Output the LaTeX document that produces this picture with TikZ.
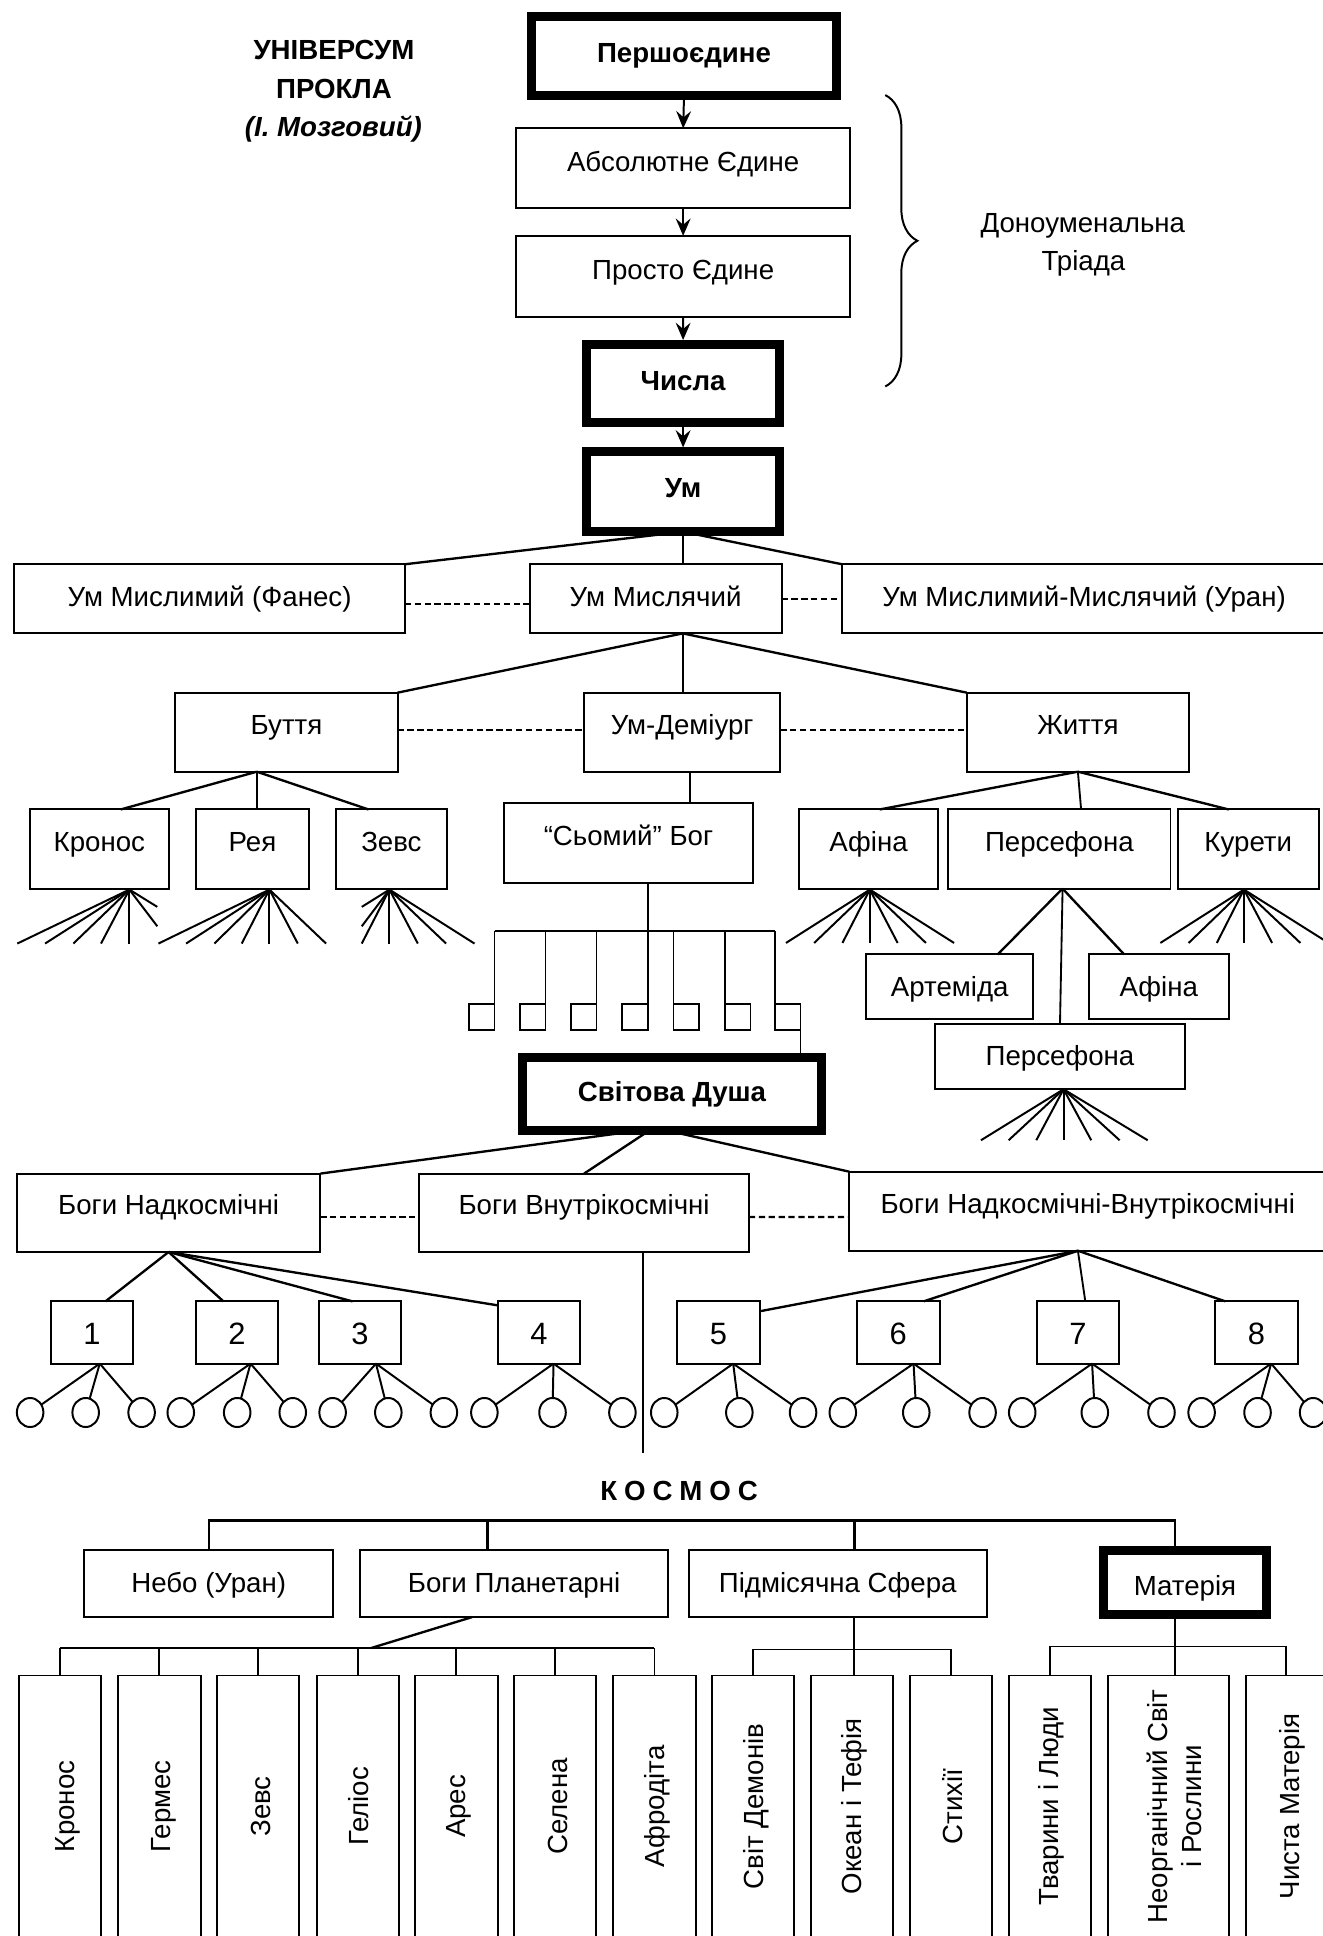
\documentclass[tikz,border=0pt]{standalone}
\usepackage{fontspec}
\setmainfont{Liberation Sans}
\usetikzlibrary{arrows.meta,shapes.geometric,decorations.pathreplacing}
\newcommand\lbfont{\fontsize{11.2}{13.5}\selectfont}
\newcommand\numfont{\fontsize{12.5}{14}\selectfont}
% box: [style]{name}{x1}{y1}{x2}{y2}{text y (cap centre)}{text}
\newcommand\mybox[8][thinbox]{%
  \node[#1, minimum width={(#5-#3)*0.5pt}, minimum height={(#6-#4)*0.5pt}] (#2) at ({(#3+#5)/2},{(#4+#6)/2}) {};
  \node[lbl] at ({(#3+#5)/2},{#7+8}) {#8};}
% vertical box: {name}{x1}{x2}{text x}{text}
\newcommand\vertbox[5]{%
  \node[thinbox, minimum width={(#3-#2)*0.5pt}, minimum height=113pt] (#1) at ({(#2+#3)/2},1470) {};
  \node[vlbl] at (#4,1463) {#5};}
\begin{document}
\begin{tikzpicture}[x=0.5pt,y=-0.5pt,
  thinbox/.style={draw, line width=0.8pt, inner sep=0pt, outer sep=0pt},
  thickbox/.style={draw, line width=3.6pt, inner sep=0pt, outer sep=0pt},
  lbl/.style={anchor=base, inner sep=0pt, font=\lbfont},
  vlbl/.style={rotate=90, inner sep=0pt, font=\lbfont, align=center},
  ttl/.style={anchor=base, inner sep=0pt, font=\lbfont\bfseries},
  conn/.style={line width=0.95pt},
  thinline/.style={line width=0.75pt},
  dotline/.style={line width=0.9pt, dash pattern=on 2.5pt off 1.5pt},
  arr/.style={line width=0.8pt, -{Stealth[length=7pt,width=6pt,inset=2.5pt]}},
  fan/.style={line width=0.8pt},
  circ/.style={draw, ellipse, line width=0.8pt, minimum width=10.75pt, minimum height=11.75pt, inner sep=0pt, outer sep=0pt},
]
\useasboundingbox (0,0) rectangle (1071,1568);

% ---------- title
\node[ttl] (t1) at (270.5,48.5) {УНІВЕРСУМ};
\node[ttl] (t2) at (270.5,79.5) {ПРОКЛА};
\node[ttl, font=\lbfont\bfseries\itshape] (t3) at (270,110.6) {(І. Мозговий)};

% ---------- top chain
\mybox[thickbox]{perv}{430.5}{13.5}{677.5}{77.5}{43}{\bfseries Першоєдине}
\mybox{abs}{418}{104}{688.6}{168.8}{131}{Абсолютне Єдине}
\mybox{prosto}{418}{191}{688.6}{256.5}{218}{Просто Єдине}
\mybox[thickbox]{chysla}{475}{279}{631.5}{342}{308}{\bfseries Числа}
\mybox[thickbox]{um}{475}{366}{631.5}{430.7}{395}{\bfseries Ум}
\draw[arr] (perv.south) -- (abs.north);
\draw[arr] (abs.south) -- (prosto.north);
\draw[arr] (prosto.south) -- ([yshift=1.8pt]chysla.north);
\draw[arr] (chysla.south) -- ([yshift=1.8pt]um.north);

% brace
\coordinate (br1) at (717,77);
\coordinate (br2) at (717,313);
\draw[line width=0.8pt, decorate, decoration={brace, amplitude=13pt}] (br1) -- (br2);
\node[lbl] (don1) at (877,188) {Доноуменальна};
\node[lbl] (don2) at (877.5,219) {Тріада};

% ---------- Um level
\mybox{fanes}{11.6}{457}{327.9}{513}{483}{Ум Мислимий (Фанес)}
\mybox{mysl}{429}{457}{633}{513}{483}{Ум Мислячий}
\mybox{uran}{682}{457}{1074}{513}{483}{Ум Мислимий-Мислячий (Уран)}
\draw[conn] (um.south) -- (fanes.north east);
\draw[conn] (um.south) -- (um.south |- mysl.north);
\draw[conn] (um.south) -- (uran.north west);
\draw[dotline] ([yshift=-2pt]fanes.east) -- ([yshift=-2pt]mysl.west);
\draw[dotline] (mysl.east) -- (uran.west);

% ---------- Mysl children
\coordinate (ma) at (553,513);
\mybox{buttya}{142}{561}{322}{625}{587}{Буття}
\mybox{demi}{473}{561}{632}{625}{587}{Ум-Деміург}
\mybox{zhyt}{783}{561}{963}{625}{587}{Життя}
\draw[conn] (ma) -- (buttya.north east);
\draw[conn] (ma) -- (ma |- demi.north);
\draw[conn] (ma) -- (zhyt.north west);
\draw[dotline] ([yshift=1pt]buttya.east) -- ([yshift=1pt]demi.west);
\draw[dotline] ([yshift=1pt]demi.east) -- ([yshift=1pt]zhyt.west);

% Buttya children
\mybox{kronos}{24}{655.6}{137}{719.7}{682}{Кронос}
\mybox{reya}{159}{655.6}{250}{719.7}{682}{Рея}
\mybox{zevs}{272}{655.6}{362}{719.7}{682}{Зевс}
\draw[conn] ([xshift=-12pt]buttya.south) -- ([xshift=8.6pt]kronos.north);
\draw[conn] ([xshift=-12pt]buttya.south) -- ([xshift=1.75pt]reya.north);
\draw[conn] ([xshift=-12pt]buttya.south) -- ([xshift=-9.25pt]zevs.north);

% Demiurg child
\mybox{somyi}{408}{650}{610}{715}{677}{“Сьомий” Бог}
\draw[conn] ([xshift=3.1pt]demi.south) -- ([xshift=3.1pt]demi.south |- somyi.north);

% Zhyttya children
\mybox{afina}{647}{655.6}{760}{719.7}{682}{Афіна}
\mybox{persef}{768}{655.6}{948}{719.7}{682}{Персефона}
\mybox{kureti}{954}{655.6}{1068}{719.7}{682}{Курети}
\draw[conn] (zhyt.south) -- ([xshift=4.45pt]afina.north);
\draw[thinline] (zhyt.south) -- ([xshift=8.8pt]persef.north);
\draw[conn] (zhyt.south) -- ([xshift=-7.9pt]kureti.north);

% Persefona children
\mybox{artem}{701.5}{773}{837}{825}{799}{Артеміда}
\mybox{afina2}{882}{773}{995}{825}{799}{Афіна}
\mybox{pers2}{757}{829.5}{960}{882}{855}{Персефона}
\coordinate (pa) at (860.6,719.7);
\draw[conn] (pa) -- ([xshift=19.4pt]artem.north);
\draw[conn] (pa) -- ([xshift=-14pt]afina2.north);
\draw[thinline] (pa) -- (pers2.north);

% ---------- fans
\coordinate (kf) at (104.8,720.5);
\foreach \x in {14,36.5,59.4,81.8,104.8} \draw[fan] (kf) -- (\x,764.2);
\draw[fan] (kf) -- (127.4,734.5);
\draw[fan] (kf) -- (127.4,750.2);
\coordinate (rf) at (218.2,720.5);
\foreach \x in {128.3,150.7,173.6,195.8,218.2,241.2,264.1} \draw[fan] (rf) -- (\x,764.2);
\coordinate (zf) at (315.4,720.5);
\foreach \x in {293,315.4,338.4,361.3,384.3} \draw[fan] (zf) -- (\x,764.2);
\draw[fan] (zf) -- (293,734.5);
\draw[fan] (zf) -- (293,750.2);
\coordinate (af) at (704.5,720.5);
\foreach \x in {636.6,659.4,682.3,704.5,727,749.9,772.7} \draw[fan] (af) -- (\x,763.7);
\coordinate (kuf) at (1007.5,720.5);
\foreach \x in {939.8,962.7,985.5,1007.5,1030.3,1053.2,1076} \draw[fan] (kuf) -- (\x,763.7);
\coordinate (pf) at (861.4,882.2);
\foreach \x in {794.5,816.9,839.3,861.4,883.8,906.8,929.5} \draw[fan] (pf) -- (\x,923.5);

% ---------- seven small boxes
\foreach \i/\x in {1/380,2/421.3,3/462.6,4/504.1,5/545.5,6/587.3,7/627.8}
  \node[thinbox, line width=0.75pt, minimum width=10.25pt, minimum height=10.25pt] (sb\i) at ({\x+10.25},823.65) {};
\coordinate (fk) at (524.4,754);
\draw[thinline] (somyi.south -| sb4.north east) -- (sb4.north east);
\draw[thinline] (sb1.north east |- fk) -- (sb7.north west |- fk);
\foreach \i in {1,2,3} \draw[thinline] (sb\i.north east) -- (sb\i.north east |- fk);
\foreach \i in {5,6,7} \draw[thinline] (sb\i.north west) -- (sb\i.north west |- fk);

% ---------- World Soul
\mybox[thickbox]{dusha}{423}{856.5}{665.5}{915.5}{884}{\bfseries Світова Душа}
\draw[thinline] (sb7.south east) -- (sb7.south east |- dusha.north);

\mybox{nadk}{13.6}{950.5}{259.5}{1014}{976}{Боги Надкосмічні}
\mybox{vnutr}{339.5}{950.5}{606.6}{1014}{976}{Боги Внутрікосмічні}
\mybox{nv}{688}{949}{1074}{1013}{975}{Боги Надкосмічні-Внутрікосмічні}
\draw[conn] ([xshift=-12.6pt]dusha.south) -- (nadk.north east);
\draw[conn] ([xshift=-9.1pt]dusha.south) -- (vnutr.north);
\draw[conn] ([xshift=-2.3pt]dusha.south) -- (nv.north west);
\draw[dotline] ([yshift=-1.7pt]nadk.east) -- ([yshift=-1.7pt]vnutr.west);
\draw[dotline] ([yshift=-1.7pt]vnutr.east) -- ([yshift=-2.3pt]nv.west);
\draw[thinline] ([xshift=23.7pt]vnutr.south) -- ++(0,163);

% numbered boxes
\foreach \i/\a/\b in {1/41/108,2/158.5/225.5,3/258/325,4/403/470,5/548.5/615.4,6/694/761,7/839.5/906.5,8/984.3/1051}
  {\mybox{n\i}{\a}{1054}{\b}{1104.4}{1081}{\numfont\i}}
\draw[conn] (nadk.south) -- ([xshift=5.45pt]n1.north);
\draw[conn] (nadk.south) -- ([xshift=-5.5pt]n2.north);
\draw[conn] (nadk.south) -- ([xshift=-3pt]n3.north);
\draw[conn] (nadk.south) -- ([yshift=-1.6pt]n4.north west);
\draw[conn] ([xshift=-4pt]nv.south) -- ([yshift=-4pt]n5.north east);
\draw[conn] ([xshift=-4pt]nv.south) -- ([xshift=10.25pt]n6.north);
\draw[thinline] ([xshift=-4pt]nv.south) -- ([xshift=3pt]n7.north);
\draw[conn] ([xshift=-4pt]nv.south) -- ([xshift=-12.6pt]n8.north);

% circles
\foreach \i/\ap/\ca/\cb/\cc in {1/80.8/24.4/69.4/114.7, 2/202.9/146.4/192.1/237.1, 3/304.5/269.4/314.5/359.5, 4/448.3/392.3/447.5/504.1, 5/593.8/538/598.8/650.4, 6/739.9/682.6/742.1/795.8, 7/884.5/827.9/886.7/940.7, 8/1029.5/973.2/1018.5/1063.5}
{
  \coordinate (ap\i) at (\ap,1104.4);
  \node[circ] (ca\i) at (\ca,1144) {};
  \node[circ] (cb\i) at (\cb,1144) {};
  \node[circ] (cc\i) at (\cc,1144) {};
  \draw[fan] (ap\i) -- (ca\i);
  \draw[fan] (ap\i) -- (cb\i);
  \draw[fan] (ap\i) -- (cc\i);
}

% ---------- KOSMOS
\node[ttl] (kosmos) at (550,1215) {К\hspace{2.8pt}О\hspace{2.8pt}С\hspace{2.8pt}М\hspace{2.8pt}О\hspace{2.8pt}С};
\mybox{nebo}{68.3}{1255}{269.8}{1309.7}{1281.5}{Небо (Уран)}
\mybox{planet}{291.7}{1255}{541}{1309.7}{1281.5}{Боги Планетарні}
\mybox{pidmis}{558}{1255}{799}{1309.7}{1281.5}{Підмісячна Сфера}
\mybox[thickbox]{materia}{893.5}{1256}{1026}{1307.5}{1284}{Матерія}

\coordinate (kb) at (0,1231.4);
\coordinate (pvx) at (394.8,0);
\coordinate (svx) at (692,0);
\coordinate (mvx) at (951.5,0);
\draw[conn] (nebo.north) -- (nebo.north |- kb) -- (mvx |- kb) -- (mvx |- materia.north);
\draw[conn] (pvx |- kb) -- (pvx |- planet.north);
\draw[conn] (svx |- kb) -- (svx |- pidmis.north);

% vertical boxes
\vertbox{v1}{15}{82}{54.7}{Кронос}
\vertbox{v2}{95.6}{162.6}{133}{Гермес}
\vertbox{v3}{176}{242.5}{211}{Зевс}
\vertbox{v4}{256.8}{323}{290.3}{Геліос}
\vertbox{v5}{336}{403}{371.3}{Арес}
\vertbox{v6}{416.6}{483}{451.9}{Селена}
\vertbox{v7}{496.6}{563.5}{532}{Афродіта}
\vertbox{v8}{576.5}{642.7}{612.7}{Світ Демонів}
\vertbox{v9}{657}{723.4}{692.3}{Океан і Тефія}
\vertbox{v10}{737}{803.3}{771.5}{Стихії}
\vertbox{v11}{817}{884}{851.4}{Тварини і Люди}
\vertbox{v12}{897.6}{995.7}{951}{Неорганічний Світ\\і Рослини}
\vertbox{v13}{1009.5}{1074}{1046.7}{Чиста Матерія}

% planetary gods bar
\coordinate (pb) at (0,1334.8);
\draw[conn] ([xshift=-17pt]planet.south) -- (300.5,1334.8);
\draw[thinline] (v1.north |- pb) -- (v7.north |- pb);
\foreach \i in {1,...,7} \draw[thinline] (v\i.north) -- (v\i.north |- pb);

% sublunar bar
\coordinate (sbr) at (0,1336);
\draw[thinline] (svx |- pidmis.south) -- (svx |- v9.north);
\draw[thinline] (v8.north) -- (v8.north |- sbr) -- (v10.north |- sbr) -- (v10.north);

% matter bar
\coordinate (mb) at (0,1333.5);
\draw[thinline] (mvx |- materia.south) -- (mvx |- v12.north);
\draw[thinline] (v11.north) -- (v11.north |- mb) -- (v13.north |- mb) -- (v13.north);
\end{tikzpicture}
\end{document}
